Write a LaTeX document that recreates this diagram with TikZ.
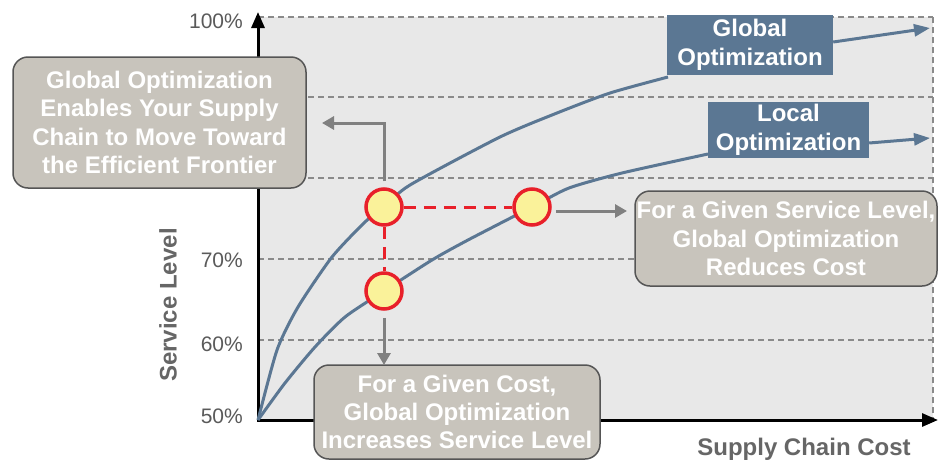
\documentclass[tikz,border=0pt]{standalone}
\usepackage{fontspec}
\setmainfont{Liberation Sans}
\usetikzlibrary{arrows.meta}
\definecolor{curveblue}{HTML}{5B7793}
\definecolor{boxgray}{HTML}{C8C4BC}
\definecolor{boxedge}{HTML}{555555}
\definecolor{bggray}{HTML}{E8E8E8}
\definecolor{ptred}{HTML}{E8202A}
\definecolor{ptyellow}{HTML}{FAF29A}
\definecolor{txtgray}{HTML}{5A5A5A}
\definecolor{lblgray}{HTML}{666666}
\definecolor{arrgray}{HTML}{808080}
\definecolor{gridgray}{HTML}{8A8A8A}
\tikzset{
  gridline/.style={draw=gridgray, line width=1.3pt, dash pattern=on 6pt off 4pt},
  axisline/.style={line width=3pt, black},
  ticklbl/.style={anchor=east, text=txtgray, font=\fontsize{21}{24}\selectfont, inner sep=0pt},
  axislbl/.style={text=lblgray, font=\fontsize{24}{27}\selectfont\bfseries, inner sep=0pt},
  curve/.style={draw=curveblue, line width=3pt},
  bluebox/.style={fill=curveblue, text=white, align=center, inner sep=0pt,
    font=\fontsize{24}{28.5}\selectfont\bfseries},
  notebox/.style={fill=boxgray, draw=boxedge, line width=1.5pt, rounded corners=15pt,
    text=white, align=center, inner sep=0pt, font=\fontsize{24}{28.3}\selectfont\bfseries},
  ptmark/.style={circle, minimum size=36pt, inner sep=0pt, fill=ptyellow, draw=ptred, line width=3.5pt},
  reddash/.style={draw=ptred, line width=3pt, dash pattern=on 12pt off 8pt},
  grayarr/.style={draw=arrgray, line width=3pt, -{Triangle[length=12pt,width=13pt]}},
}
\begin{document}
\begin{tikzpicture}[x=1pt,y=-1pt]
\useasboundingbox (0,0) rectangle (938,461);
% background
\fill[bggray] (258,17) rectangle (933,420);
% grid
\draw[gridline] (258,17) -- (933,17);
\draw[gridline] (258,97) -- (933,97);
\draw[gridline] (258,178) -- (933,178);
\draw[gridline] (258,259) -- (933,259);
\draw[gridline] (258,340) -- (933,340);
\draw[gridline] (933,17) -- (933,420);
% axes
\coordinate (O) at (258,420);
\coordinate (ytip) at (258,12);
\coordinate (xtip) at (938,420);
\draw[axisline, {Triangle[length=16pt,width=13pt]}-{Triangle[length=16pt,width=13pt]}] (ytip) -- (O) -- (xtip);
% tick labels
\node[ticklbl] (t100) at (243,21) {100\%};
\node[ticklbl] (t70) at (243,260) {70\%};
\node[ticklbl] (t60) at (243,344) {60\%};
\node[ticklbl] (t50) at (243,416) {50\%};
% axis labels
\node[axislbl, rotate=90] (ylab) at (168,305) {Service Level};
\node[axislbl] (xlab) at (804,449) {Supply Chain Cost};
% curves
\coordinate (gtip) at (930,28);
\coordinate (ltip) at (930,138);
\draw[curve] plot[smooth, tension=0.4] coordinates {(258,420) (277,350) (298,307) (332,257) (365,222) (384,207) (410,185) (500,137) (557,113) (610,93) (668,77)};
\draw[curve] plot[smooth, tension=0.4] coordinates {(258,420) (285,383) (315,347) (345,317) (384,291) (432,260) (468,240) (532,207) (569,188) (622,173) (708,154)};
\node[bluebox, minimum width=166pt, minimum height=60pt] (gbox) at (750,45) {Global\\Optimization};
\node[bluebox, minimum width=161pt, minimum height=56pt] (lbox) at (788.5,130) {Local\\Optimization};
\draw[curve, -{Triangle[length=16pt,width=12pt]}] ([yshift=3pt]gbox.east) -- (gtip);
\draw[curve, -{Triangle[length=16pt,width=12pt]}] ([yshift=-13pt]lbox.east) -- (ltip);
% points
\node[ptmark] (p1) at (384,207) {};
\node[ptmark] (p2) at (532,207) {};
\node[ptmark] (p3) at (384,291) {};
\draw[reddash] (p1) -- (p2);
\draw[reddash] (p1) -- (p3);
% note boxes
\node[notebox, minimum width=293pt, minimum height=131pt] (n1) at (159.5,122.5)
  {Global Optimization\\Enables Your Supply\\Chain to Move Toward\\the Efficient Frontier};
\node[notebox, minimum width=302pt, minimum height=95pt] (n2) at (786,238.5)
  {For a Given Service Level,\\Global Optimization\\Reduces Cost};
\node[notebox, minimum width=286pt, minimum height=94pt] (n3) at (457,412)
  {For a Given Cost,\\Global Optimization\\Increases Service Level};
% gray arrows
\coordinate (a1) at (322,123);
\coordinate (a2) at (384,365);
\coordinate (a3) at (627,211);
\draw[grayarr] ([yshift=6pt]p1.north) |- (a1);
\draw[grayarr] ([yshift=-7pt]p3.south) -- (a2);
\draw[grayarr] ([xshift=4pt,yshift=-4pt]p2.east) -- (a3);
\end{tikzpicture}
\end{document}
